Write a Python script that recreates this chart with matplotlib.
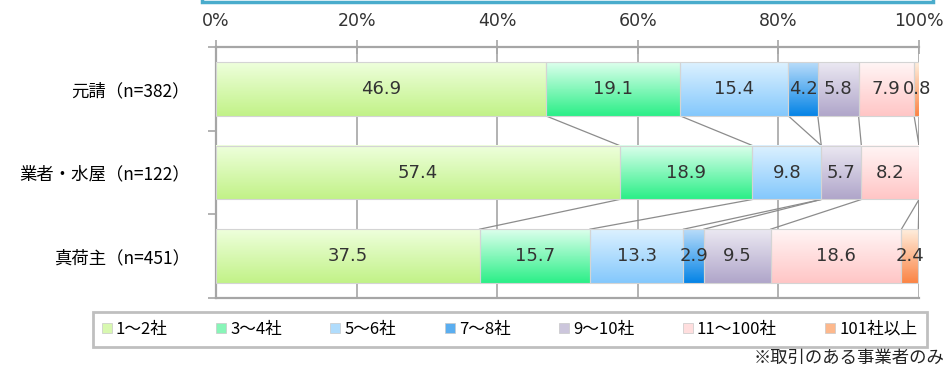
import numpy as np
import matplotlib
matplotlib.use('Agg')
import matplotlib.pyplot as plt
from matplotlib.colors import LinearSegmentedColormap
from matplotlib.patches import Patch, Rectangle

plt.rcParams['font.family'] = ['Noto Sans CJK JP', 'DejaVu Sans']

# data (%) - share of business partners by number of companies
groups = ['元請（n=382）', '業者・水屋（n=122）', '真荷主（n=451）']
series = ['1～2社', '3～4社', '5～6社', '7～8社', '9～10社', '11～100社', '101社以上']
motouke = [46.9, 19.1, 15.4, 4.2, 5.8, 7.9, 0.8]
gyosha = [57.4, 18.9, 9.8, 0.0, 5.7, 8.2, 0.0]
ninushi = [37.5, 15.7, 13.3, 2.9, 9.5, 18.6, 2.4]
xticks = [0, 20, 40, 60, 80, 100]

# gradient fills: light at the top, stronger at the bottom
tops = ['#eeffdc', '#dcffec', '#dcf1ff', '#b8dcfa', '#ebe8f2', '#fff5f5', '#ffeedd']
bottoms = ['#c2f288', '#2cef88', '#84c8fc', '#0584e6', '#b0a6ca', '#ffc6c6', '#fb8445']
mids = ['#d8f8b0', '#88f5b8', '#b0dcfc', '#5aaef0', '#ccc6dc', '#ffdede', '#fdb88c']

rows = [motouke, gyosha, ninushi]
ypos = [2, 1, 0]
h = 0.645
gray = '#a6a6a6'

fig = plt.figure(figsize=(9.49, 3.66), dpi=100)
ax = fig.add_axes([216 / 949, 1 - 298 / 366, 703 / 949, 251 / 366])

cmaps = [LinearSegmentedColormap.from_list('s%d' % j, [bottoms[j], tops[j]])
         for j in range(len(series))]
grad = np.linspace(0, 1, 64).reshape(-1, 1)

cums = []
for vals, y in zip(rows, ypos):
    left = 0.0
    cum = []
    for j, v in enumerate(vals):
        if v > 0:
            ax.barh(y, v, left=left, height=h, color='none',
                    edgecolor='#d4d4d4', lw=0.8, zorder=4)
            ax.imshow(grad, cmap=cmaps[j], origin='lower', aspect='auto',
                      extent=(left, left + v, y - h / 2, y + h / 2),
                      interpolation='bilinear', zorder=3)
            ax.text(left + v / 2, y, '%.1f' % v, ha='center', va='center',
                    fontsize=13, color='#333333', family='DejaVu Sans', zorder=5)
        left += v
        cum.append(left)
    cums.append(cum)

# series lines joining the segment edges of neighbouring bars
for r in range(len(rows) - 1):
    for j in range(len(series)):
        ax.plot([cums[r][j], cums[r + 1][j]],
                [ypos[r] - h / 2, ypos[r + 1] + h / 2],
                color='#8c8c8c', lw=0.9, zorder=2)

ax.set_xlim(0, 100)
ax.set_ylim(-0.5, 2.5)

ax.set_axisbelow(True)
ax.xaxis.grid(True, color=gray, lw=1.2, zorder=0)

ax.xaxis.tick_top()
ax.set_xticks(xticks)
ax.set_xticklabels(['%d%%' % t for t in xticks], family='DejaVu Sans', color='#333333')
ax.tick_params(axis='x', direction='inout', length=10, width=1.2, color=gray,
               pad=7, labelsize=12.5)

ax.set_yticks([-0.5, 0.5, 1.5, 2.5])
ax.set_yticklabels([])
ax.tick_params(axis='y', which='major', direction='out', length=6, width=1.2, color=gray)
ax.set_yticks(ypos, minor=True)
ax.set_yticklabels(groups, minor=True)
ax.tick_params(axis='y', which='minor', length=0, pad=19, labelsize=12.5)

for side in ['top', 'left', 'bottom']:
    ax.spines[side].set_color(gray)
    ax.spines[side].set_linewidth(1.6)
ax.spines['right'].set_visible(False)

# bottom edge of the title box above the chart
fig.patches.append(Rectangle((202 / 949, 1 - 2 / 366), 731 / 949, 30 / 366,
                             transform=fig.transFigure, facecolor='white',
                             edgecolor='#4aaccc', lw=2.5, zorder=5))

handles = [Patch(facecolor=mids[j], edgecolor='#c8c8c8', lw=0.5) for j in range(len(series))]
leg = fig.legend(handles, series, ncol=7, loc='center', bbox_to_anchor=(0.537, 0.1),
                 frameon=True, fancybox=False, edgecolor='#b0b0b0',
                 handlelength=0.6, handleheight=0.6, handletextpad=0.25,
                 columnspacing=2.9, fontsize=12, borderpad=0.55)
leg.get_frame().set_linewidth(2)

fig.text(944 / 949, 1 - 358 / 366, '※取引のある事業者のみ', ha='right', va='center',
         fontsize=12.5, color='#222222')

fig.savefig('out.png', dpi=100)
